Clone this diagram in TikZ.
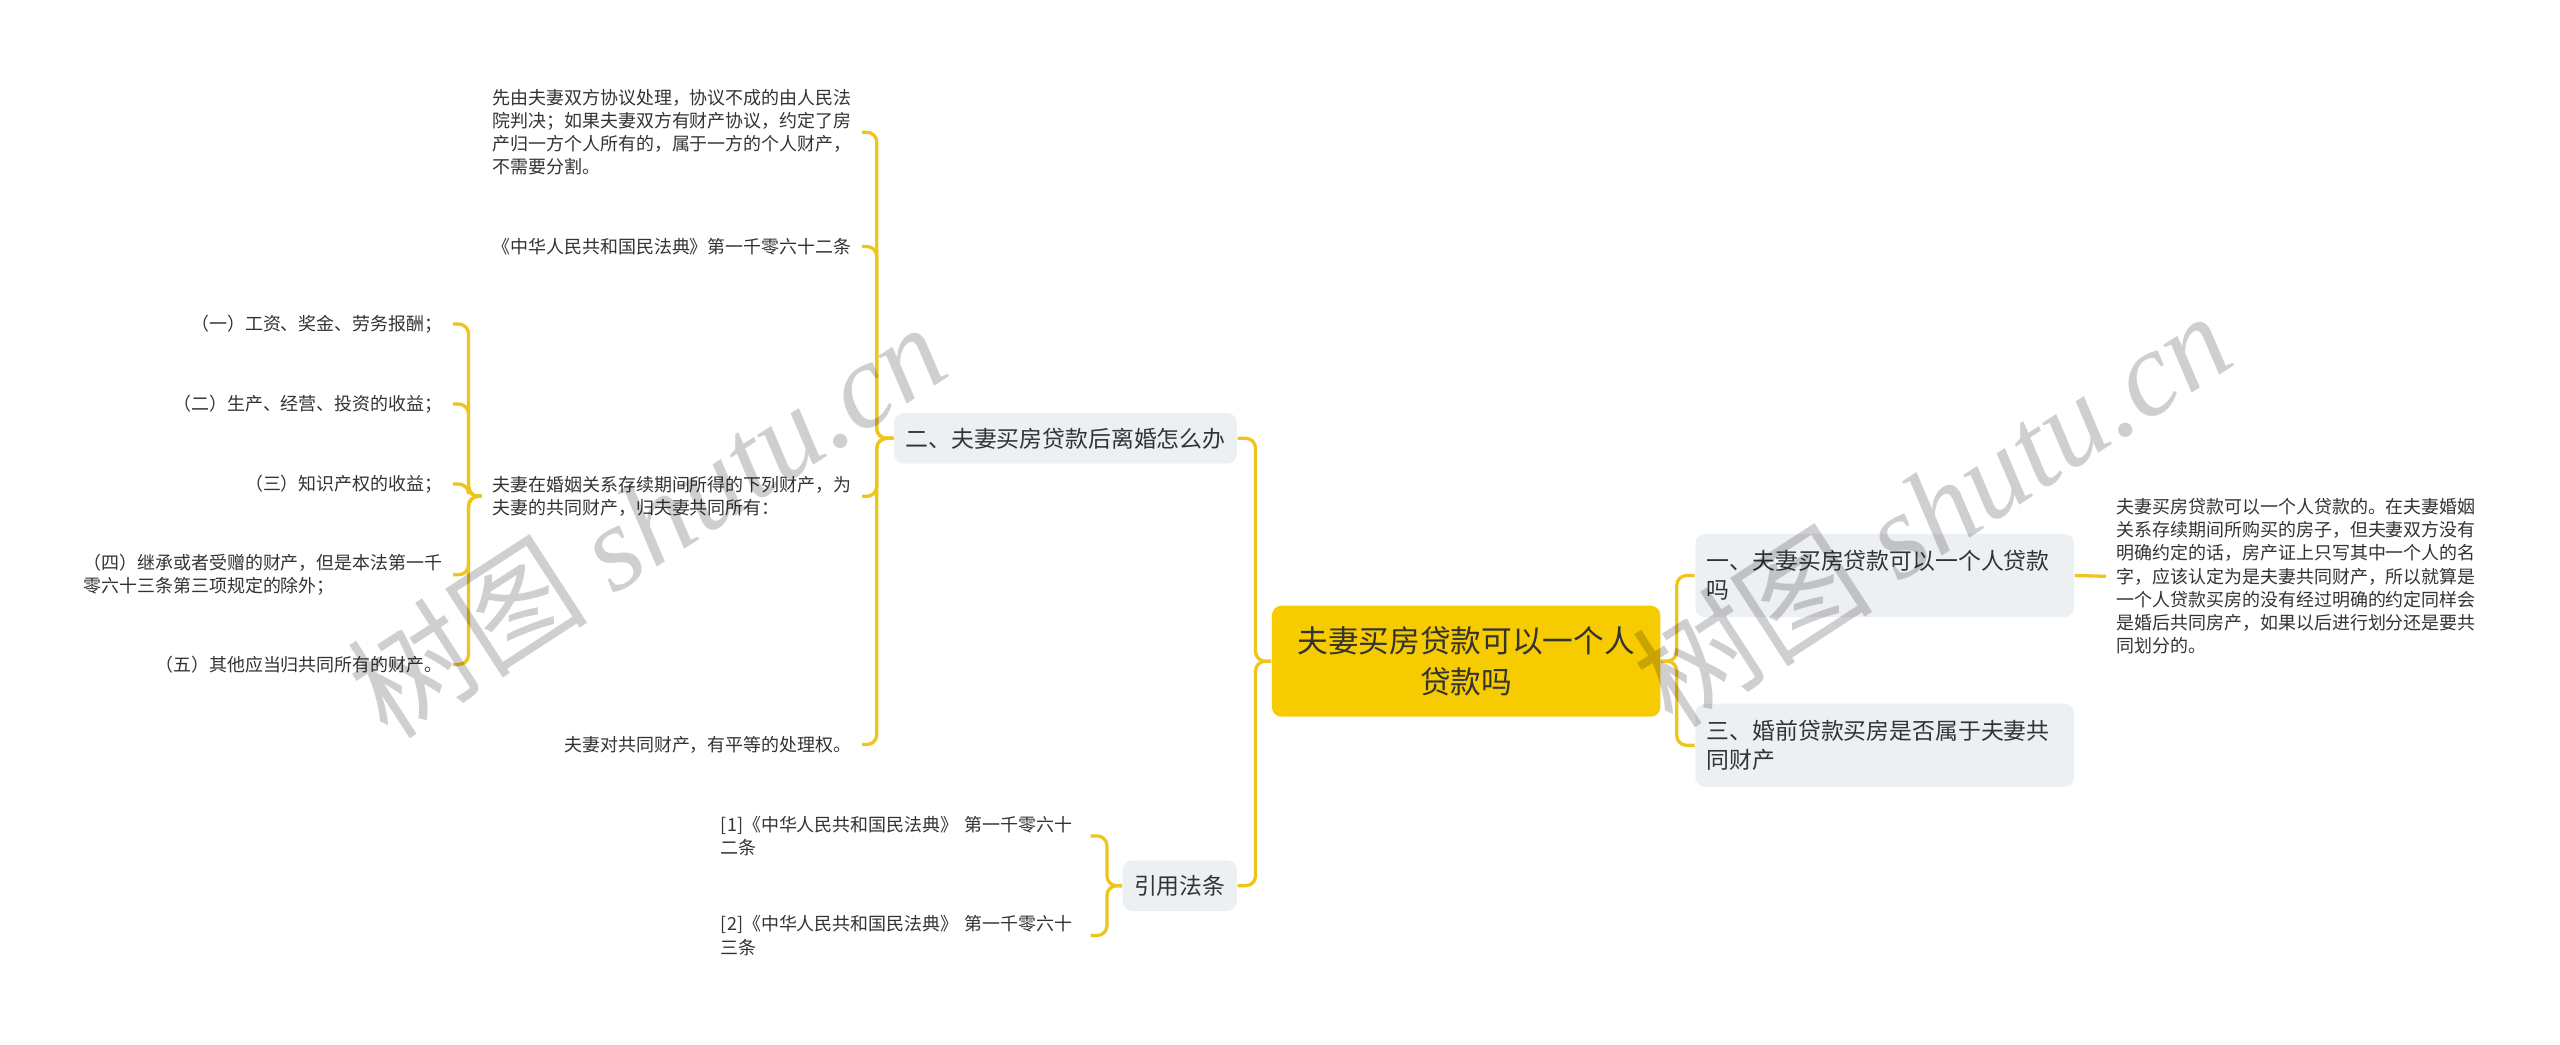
\documentclass[tikz,border=0pt]{standalone}
\usepackage{fontspec}
\setmainfont{Noto Sans CJK SC}
\newfontfamily\wmlatin{Liberation Serif}
\definecolor{rootc}{HTML}{F6CB00}
\definecolor{linec}{HTML}{EFC41C}
\definecolor{boxc}{HTML}{EDF0F3}
\definecolor{txt}{HTML}{333333}
\tikzset{
  rootbox/.style={fill=rootc, rounded corners=3pt, minimum width=119pt, minimum height=34pt, align=center, font=\fontsize{9.4pt}{12.5pt}\selectfont, text=txt, inner sep=0pt},
  branch/.style={fill=boxc, rounded corners=3pt, font=\fontsize{7pt}{9pt}\selectfont, text=txt, inner xsep=3.5pt, inner ysep=0pt, minimum height=15.5pt, align=left},
  leaf/.style={font=\fontsize{5.5pt}{7.1pt}\selectfont, text=txt, inner xsep=3pt, inner ysep=1pt, align=left},
  conn/.style={draw=linec, line width=1pt, rounded corners=3pt},
  wmark/.style={text=black, text opacity=0.19, rotate=33, font=\fontsize{37pt}{37pt}\selectfont, inner sep=0pt},
}
\begin{document}
\begin{tikzpicture}[x=0.5pt, y=-0.5pt]
\useasboundingbox (0,0) rectangle (1568,640);
\fill[white] (0,0) rectangle (1568,640);

% root and branches
\node[rootbox] (root) at (898,405) {夫妻买房贷款可以一个人\\贷款吗};
\node[branch, anchor=east] (b2) at (758,268.5) {二、夫妻买房贷款后离婚怎么办};
\node[branch, anchor=east] (bref) at (758,542.5) {引用法条};
\node[branch, anchor=west, text width=109pt, minimum height=25.5pt] (b1) at (1038,352.5) {一、夫妻买房贷款可以一个人贷款\\吗};
\node[branch, anchor=west, text width=109pt, minimum height=25.5pt] (b3) at (1038,456.5) {三、婚前贷款买房是否属于夫妻共\\同财产};

% right leaf
\node[leaf, anchor=west, text width=110pt] (r1) at (1290,353) {夫妻买房贷款可以一个人贷款的。在夫妻婚姻\\关系存续期间所购买的房子，但夫妻双方没有\\明确约定的话，房产证上只写其中一个人的名\\字，应该认定为是夫妻共同财产，所以就算是\\一个人贷款买房的没有经过明确的约定同样会\\是婚后共同房产，如果以后进行划分还是要共\\同划分的。};

% leaves of b2
\node[leaf, anchor=east, text width=110pt] (l1) at (528,81) {先由夫妻双方协议处理，协议不成的由人民法\\院判决；如果夫妻双方有财产协议，约定了房\\产归一方个人所有的，属于一方的个人财产，\\不需要分割。};
\node[leaf, anchor=east] (l2) at (528,151) {《中华人民共和国民法典》第一千零六十二条};
\node[leaf, anchor=east] (l3) at (528,304) {夫妻在婚姻关系存续期间所得的下列财产，为\\夫妻的共同财产，归夫妻共同所有：};
\node[leaf, anchor=east] (l4) at (528,456) {夫妻对共同财产，有平等的处理权。};

% leaves of l3
\node[leaf, anchor=east] (s1) at (277.5,198.5) {（一）工资、奖金、劳务报酬；};
\node[leaf, anchor=east] (s2) at (277.5,247.5) {（二）生产、经营、投资的收益；};
\node[leaf, anchor=east] (s3) at (277.5,296.5) {（三）知识产权的收益；};
\node[leaf, anchor=east, text width=110pt] (s4) at (277.5,352) {（四）继承或者受赠的财产，但是本法第一千\\零六十三条第三项规定的除外；};
\node[leaf, anchor=east] (s5) at (277.5,407) {（五）其他应当归共同所有的财产。};

% leaves of bref
\node[leaf, anchor=east, text width=110pt] (f1) at (668,512) {[1]《中华人民共和国民法典》 第一千零六十\\二条};
\node[leaf, anchor=east, text width=110pt] (f2) at (668,573) {[2]《中华人民共和国民法典》 第一千零六十\\三条};

% trunk points
\coordinate (tL) at (769,405);
\coordinate (tR) at (1027,405);
\coordinate (t2) at (537,268.5);
\coordinate (t3) at (287,304);
\coordinate (tf) at (678,542.5);

% connectors
\draw[conn] (root.west) -- (tL) |- (b2.east);
\draw[conn] (root.west) -- (tL) |- (bref.east);
\draw[conn] (root.east) -- (tR) |- (b1.west);
\draw[conn] (root.east) -- (tR) |- (b3.west);
\draw[conn] (b1.east) -- (r1.west);
\foreach \c in {l1,l2,l3,l4} \draw[conn] (b2.west) -- (t2) |- (\c.east);
\foreach \c in {s1,s2,s3,s4,s5} \draw[conn] (l3.west) -- (t3) |- (\c.east);
\foreach \c in {f1,f2} \draw[conn] (bref.west) -- (tf) |- (\c.east);

% watermarks
\node[wmark] (wm1) at (396,318) {树图 {\wmlatin\itshape shutu.cn}};
\node[wmark] (wm2) at (1183,311) {树图 {\wmlatin\itshape shutu.cn}};
\end{tikzpicture}
\end{document}
